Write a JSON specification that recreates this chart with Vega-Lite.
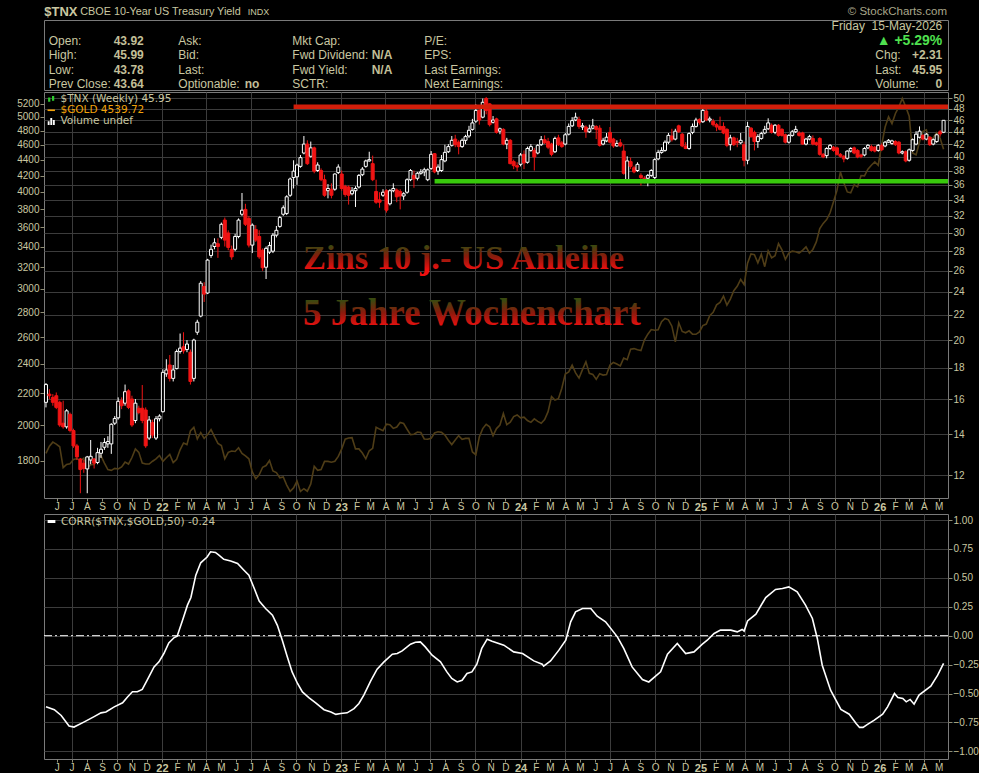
{
  "$schema": "https://vega.github.io/schema/vega-lite/v6.json",
  "background": "#000000",
  "padding": 0,
  "spacing": 0,
  "datasets": {
    "top": [
      {"t": "$TNX", "k": "sym", "c": 1},
      {"t": "CBOE 10-Year US Treasury Yield", "k": "name", "c": 2},
      {"t": "INDX", "k": "ex", "c": 3},
      {"t": "© StockCharts.com", "k": "copy", "c": 4}
    ],
    "head": [
      {"t": "Friday\u00a0\u00a015-May-2026", "k": "date", "c": 9, "r": 1},
      {"t": "▲ +5.29%", "k": "pct", "c": 9, "r": 2},
      {"t": "Open:", "k": "label", "c": 1, "r": 2},
      {"t": "43.92", "k": "value", "c": 2, "r": 2},
      {"t": "Ask:", "k": "label", "c": 3, "r": 2},
      {"t": "Mkt Cap:", "k": "label", "c": 5, "r": 2},
      {"t": "P/E:", "k": "label", "c": 7, "r": 2},
      {"t": "High:", "k": "label", "c": 1, "r": 3},
      {"t": "45.99", "k": "value", "c": 2, "r": 3},
      {"t": "Bid:", "k": "label", "c": 3, "r": 3},
      {"t": "Fwd Dividend:", "k": "label", "c": 5, "r": 3},
      {"t": "N/A", "k": "value", "c": 6, "r": 3},
      {"t": "EPS:", "k": "label", "c": 7, "r": 3},
      {"t": "Chg:", "k": "label", "c": 8, "r": 3},
      {"t": "+2.31", "k": "rvalue", "c": 9, "r": 3},
      {"t": "Low:", "k": "label", "c": 1, "r": 4},
      {"t": "43.78", "k": "value", "c": 2, "r": 4},
      {"t": "Last:", "k": "label", "c": 3, "r": 4},
      {"t": "Fwd Yield:", "k": "label", "c": 5, "r": 4},
      {"t": "N/A", "k": "value", "c": 6, "r": 4},
      {"t": "Last Earnings:", "k": "label", "c": 7, "r": 4},
      {"t": "Last:", "k": "label", "c": 8, "r": 4},
      {"t": "45.95", "k": "rvalue", "c": 9, "r": 4},
      {"t": "Prev Close:", "k": "label", "c": 1, "r": 5},
      {"t": "43.64", "k": "value", "c": 2, "r": 5},
      {"t": "Optionable:", "k": "label", "c": 3, "r": 5},
      {"t": "no", "k": "value", "c": 4, "r": 5},
      {"t": "SCTR:", "k": "label", "c": 5, "r": 5},
      {"t": "Next Earnings:", "k": "label", "c": 7, "r": 5},
      {"t": "Volume:", "k": "label", "c": 8, "r": 5},
      {"t": "0", "k": "rvalue", "c": 9, "r": 5}
    ],
    "legendMain": [
      {"s": "$TNX (Weekly) 45.95"},
      {"s": "$GOLD 4539.72"},
      {"s": "Volume undef"}
    ],
    "levels": [
      {"n": "Widerstand", "v": 48.36, "from": "2022-09-26", "to": "2026-05-20"},
      {"n": "Unterstützung", "v": 36.5, "from": "2023-07-10", "to": "2026-05-20"}
    ],
    "weekly": [
      {"d":"2021-05-10","o":15.8,"h":17.0,"l":15.5,"c":16.9,"g":1840},
      {"d":"2021-05-17","o":16.3,"h":16.6,"l":16.0,"c":16.2,"g":1880},
      {"d":"2021-05-24","o":16.1,"h":16.3,"l":15.6,"c":15.8,"g":1903},
      {"d":"2021-05-31","o":16.2,"h":16.4,"l":15.4,"c":15.5,"g":1892},
      {"d":"2021-06-07","o":15.8,"h":15.9,"l":14.4,"c":14.5,"g":1877},
      {"d":"2021-06-14","o":14.6,"h":15.9,"l":14.3,"c":14.4,"g":1764},
      {"d":"2021-06-21","o":14.4,"h":15.4,"l":14.3,"c":15.3,"g":1781},
      {"d":"2021-06-28","o":15.1,"h":15.2,"l":14.1,"c":14.2,"g":1784},
      {"d":"2021-07-05","o":14.2,"h":14.3,"l":13.3,"c":13.4,"g":1808},
      {"d":"2021-07-12","o":13.4,"h":13.5,"l":12.7,"c":12.85,"g":1812},
      {"d":"2021-07-19","o":12.75,"h":12.8,"l":11.2,"c":12.25,"g":1802},
      {"d":"2021-07-26","o":12.55,"h":12.7,"l":12.1,"c":12.3,"g":1814},
      {"d":"2021-08-02","o":12.28,"h":12.9,"l":11.2,"c":12.85,"g":1763},
      {"d":"2021-08-09","o":12.7,"h":13.7,"l":12.5,"c":12.88,"g":1779},
      {"d":"2021-08-16","o":12.75,"h":12.8,"l":12.3,"c":12.55,"g":1781},
      {"d":"2021-08-23","o":12.58,"h":13.3,"l":12.5,"c":13.06,"g":1817},
      {"d":"2021-08-30","o":13.03,"h":13.6,"l":12.8,"c":13.23,"g":1827},
      {"d":"2021-09-06","o":13.33,"h":13.8,"l":13.2,"c":13.57,"g":1788},
      {"d":"2021-09-13","o":13.5,"h":13.9,"l":13.3,"c":13.62,"g":1754},
      {"d":"2021-09-20","o":13.5,"h":14.6,"l":13.0,"c":14.54,"g":1750},
      {"d":"2021-09-27","o":14.6,"h":15.0,"l":14.5,"c":14.86,"g":1760},
      {"d":"2021-10-04","o":14.9,"h":16.1,"l":14.8,"c":15.86,"g":1757},
      {"d":"2021-10-11","o":15.9,"h":16.1,"l":15.4,"c":15.6,"g":1768},
      {"d":"2021-10-18","o":15.75,"h":16.9,"l":15.6,"c":16.45,"g":1793},
      {"d":"2021-10-25","o":16.5,"h":16.6,"l":15.4,"c":15.5,"g":1783},
      {"d":"2021-11-01","o":16.0,"h":16.2,"l":14.4,"c":14.5,"g":1818},
      {"d":"2021-11-08","o":14.75,"h":16.0,"l":14.6,"c":15.75,"g":1865},
      {"d":"2021-11-15","o":15.45,"h":15.6,"l":15.1,"c":15.2,"g":1846},
      {"d":"2021-11-22","o":15.45,"h":16.87,"l":14.6,"c":14.75,"g":1788},
      {"d":"2021-11-29","o":15.35,"h":15.5,"l":13.3,"c":13.4,"g":1783},
      {"d":"2021-12-06","o":13.8,"h":15.0,"l":13.7,"c":14.78,"g":1783},
      {"d":"2021-12-13","o":14.63,"h":14.8,"l":13.8,"c":13.96,"g":1798},
      {"d":"2021-12-20","o":13.8,"h":15.0,"l":13.7,"c":14.85,"g":1811},
      {"d":"2021-12-27","o":14.85,"h":15.1,"l":14.7,"c":15.0,"g":1829},
      {"d":"2022-01-03","o":15.25,"h":17.9,"l":15.2,"c":17.7,"g":1797},
      {"d":"2022-01-10","o":17.6,"h":18.6,"l":17.4,"c":17.86,"g":1817},
      {"d":"2022-01-17","o":18.2,"h":18.9,"l":17.1,"c":17.3,"g":1835},
      {"d":"2022-01-24","o":17.3,"h":18.2,"l":17.1,"c":17.86,"g":1791},
      {"d":"2022-01-31","o":17.95,"h":19.3,"l":17.9,"c":19.15,"g":1808},
      {"d":"2022-02-07","o":19.15,"h":20.5,"l":19.0,"c":19.4,"g":1860},
      {"d":"2022-02-14","o":19.5,"h":20.6,"l":19.0,"c":19.2,"g":1898},
      {"d":"2022-02-21","o":19.3,"h":20.0,"l":19.1,"c":19.7,"g":1889},
      {"d":"2022-02-28","o":19.1,"h":19.3,"l":16.9,"c":17.1,"g":1967},
      {"d":"2022-03-07","o":17.3,"h":20.1,"l":17.1,"c":20.0,"g":1988},
      {"d":"2022-03-14","o":20.6,"h":21.6,"l":20.4,"c":21.4,"g":1921},
      {"d":"2022-03-21","o":21.9,"h":25.0,"l":21.8,"c":24.8,"g":1958},
      {"d":"2022-03-28","o":24.5,"h":24.9,"l":23.1,"c":23.8,"g":1924},
      {"d":"2022-04-04","o":23.9,"h":27.2,"l":23.8,"c":27.07,"g":1946},
      {"d":"2022-04-11","o":27.55,"h":28.7,"l":27.3,"c":28.2,"g":1975},
      {"d":"2022-04-18","o":28.5,"h":29.4,"l":28.2,"c":28.9,"g":1934},
      {"d":"2022-04-25","o":28.8,"h":29.4,"l":27.3,"c":28.5,"g":1896},
      {"d":"2022-05-02","o":29.5,"h":31.2,"l":29.3,"c":31.0,"g":1884},
      {"d":"2022-05-09","o":31.5,"h":31.8,"l":28.5,"c":29.2,"g":1811},
      {"d":"2022-05-16","o":30.0,"h":30.3,"l":28.1,"c":28.4,"g":1846},
      {"d":"2022-05-23","o":28.2,"h":28.6,"l":27.1,"c":27.4,"g":1853},
      {"d":"2022-05-30","o":28.2,"h":29.9,"l":28.0,"c":29.6,"g":1851},
      {"d":"2022-06-06","o":29.6,"h":31.7,"l":29.4,"c":31.5,"g":1871},
      {"d":"2022-06-13","o":32.2,"h":34.9,"l":32.0,"c":32.7,"g":1840},
      {"d":"2022-06-20","o":32.8,"h":33.5,"l":30.8,"c":31.0,"g":1827},
      {"d":"2022-06-27","o":31.7,"h":32.0,"l":28.4,"c":28.65,"g":1811},
      {"d":"2022-07-04","o":28.65,"h":31.1,"l":27.8,"c":30.9,"g":1742},
      {"d":"2022-07-11","o":30.4,"h":30.9,"l":29.0,"c":29.2,"g":1707},
      {"d":"2022-07-18","o":29.6,"h":30.3,"l":27.2,"c":27.4,"g":1727},
      {"d":"2022-07-25","o":28.1,"h":28.3,"l":26.0,"c":26.3,"g":1766},
      {"d":"2022-08-01","o":26.35,"h":28.5,"l":25.2,"c":28.3,"g":1775},
      {"d":"2022-08-08","o":27.9,"h":29.0,"l":27.7,"c":28.6,"g":1802},
      {"d":"2022-08-15","o":28.0,"h":30.0,"l":27.8,"c":29.75,"g":1747},
      {"d":"2022-08-22","o":29.75,"h":30.8,"l":29.5,"c":30.3,"g":1738},
      {"d":"2022-08-29","o":30.75,"h":32.0,"l":30.6,"c":31.8,"g":1712},
      {"d":"2022-09-05","o":32.2,"h":33.3,"l":32.0,"c":33.0,"g":1716},
      {"d":"2022-09-12","o":32.3,"h":34.6,"l":32.1,"c":34.4,"g":1675},
      {"d":"2022-09-19","o":34.6,"h":37.0,"l":34.4,"c":36.8,"g":1644},
      {"d":"2022-09-26","o":37.0,"h":39.5,"l":35.5,"c":37.9,"g":1661},
      {"d":"2022-10-03","o":37.1,"h":39.0,"l":36.0,"c":38.8,"g":1695},
      {"d":"2022-10-10","o":38.6,"h":40.3,"l":38.4,"c":39.9,"g":1644},
      {"d":"2022-10-17","o":40.6,"h":43.3,"l":40.4,"c":42.0,"g":1657},
      {"d":"2022-10-24","o":42.0,"h":42.6,"l":38.8,"c":39.0,"g":1645},
      {"d":"2022-10-31","o":40.1,"h":42.4,"l":39.9,"c":41.4,"g":1681},
      {"d":"2022-11-07","o":41.4,"h":41.6,"l":37.6,"c":37.9,"g":1771},
      {"d":"2022-11-14","o":38.0,"h":39.2,"l":37.8,"c":38.8,"g":1750},
      {"d":"2022-11-21","o":38.0,"h":38.3,"l":36.5,"c":36.7,"g":1754},
      {"d":"2022-11-28","o":36.7,"h":37.4,"l":34.4,"c":34.6,"g":1797},
      {"d":"2022-12-05","o":35.2,"h":36.1,"l":34.2,"c":35.5,"g":1797},
      {"d":"2022-12-12","o":35.4,"h":36.2,"l":34.2,"c":34.6,"g":1793},
      {"d":"2022-12-19","o":35.4,"h":37.6,"l":35.2,"c":37.5,"g":1798},
      {"d":"2022-12-26","o":37.7,"h":38.9,"l":37.5,"c":38.5,"g":1824},
      {"d":"2023-01-02","o":37.5,"h":38.0,"l":35.2,"c":35.5,"g":1865},
      {"d":"2023-01-09","o":35.8,"h":36.0,"l":34.4,"c":34.7,"g":1920},
      {"d":"2023-01-16","o":35.7,"h":35.9,"l":33.4,"c":34.6,"g":1926},
      {"d":"2023-01-23","o":34.8,"h":35.7,"l":34.6,"c":35.2,"g":1928},
      {"d":"2023-01-30","o":35.2,"h":35.8,"l":33.1,"c":35.5,"g":1865},
      {"d":"2023-02-06","o":35.7,"h":37.5,"l":35.5,"c":37.3,"g":1865},
      {"d":"2023-02-13","o":37.4,"h":38.5,"l":37.2,"c":38.2,"g":1842},
      {"d":"2023-02-20","o":38.6,"h":39.6,"l":38.4,"c":39.4,"g":1811},
      {"d":"2023-02-27","o":39.4,"h":40.8,"l":39.3,"c":39.6,"g":1855},
      {"d":"2023-03-06","o":39.0,"h":40.2,"l":36.5,"c":36.7,"g":1868},
      {"d":"2023-03-13","o":35.1,"h":36.7,"l":33.5,"c":33.7,"g":1989},
      {"d":"2023-03-20","o":34.0,"h":35.0,"l":33.0,"c":33.7,"g":1978},
      {"d":"2023-03-27","o":34.6,"h":35.4,"l":34.4,"c":35.0,"g":1969},
      {"d":"2023-04-03","o":35.2,"h":35.4,"l":32.4,"c":32.7,"g":2007},
      {"d":"2023-04-10","o":33.5,"h":35.4,"l":33.3,"c":35.2,"g":2004},
      {"d":"2023-04-17","o":35.2,"h":36.2,"l":35.0,"c":35.5,"g":1982},
      {"d":"2023-04-24","o":35.3,"h":35.5,"l":33.7,"c":34.4,"g":1990},
      {"d":"2023-05-01","o":35.1,"h":35.4,"l":32.8,"c":34.5,"g":2017},
      {"d":"2023-05-08","o":34.5,"h":35.0,"l":34.0,"c":34.8,"g":2011},
      {"d":"2023-05-15","o":35.0,"h":36.9,"l":34.8,"c":36.7,"g":1977},
      {"d":"2023-05-22","o":36.7,"h":38.2,"l":36.5,"c":38.0,"g":1946},
      {"d":"2023-05-29","o":37.3,"h":38.0,"l":35.6,"c":36.8,"g":1948},
      {"d":"2023-06-05","o":36.9,"h":37.8,"l":36.6,"c":37.6,"g":1961},
      {"d":"2023-06-12","o":37.6,"h":38.2,"l":37.4,"c":37.8,"g":1958},
      {"d":"2023-06-19","o":37.8,"h":38.4,"l":37.2,"c":38.1,"g":1921},
      {"d":"2023-06-26","o":36.7,"h":38.3,"l":36.5,"c":38.1,"g":1919},
      {"d":"2023-07-03","o":38.3,"h":40.9,"l":38.1,"c":40.4,"g":1925},
      {"d":"2023-07-10","o":40.5,"h":40.6,"l":37.6,"c":37.8,"g":1955},
      {"d":"2023-07-17","o":37.9,"h":38.9,"l":37.4,"c":38.5,"g":1962},
      {"d":"2023-07-24","o":38.0,"h":40.3,"l":37.8,"c":39.6,"g":1959},
      {"d":"2023-07-31","o":39.4,"h":41.9,"l":39.2,"c":40.7,"g":1943},
      {"d":"2023-08-07","o":40.8,"h":42.0,"l":40.6,"c":41.6,"g":1914},
      {"d":"2023-08-14","o":41.8,"h":43.3,"l":41.6,"c":42.6,"g":1889},
      {"d":"2023-08-21","o":42.8,"h":43.5,"l":41.5,"c":41.9,"g":1915},
      {"d":"2023-08-28","o":42.3,"h":42.6,"l":40.4,"c":41.6,"g":1940},
      {"d":"2023-09-04","o":41.6,"h":42.9,"l":41.4,"c":42.6,"g":1919},
      {"d":"2023-09-11","o":42.6,"h":43.5,"l":42.0,"c":43.2,"g":1924},
      {"d":"2023-09-18","o":43.3,"h":45.0,"l":43.0,"c":44.25,"g":1925},
      {"d":"2023-09-25","o":44.4,"h":46.2,"l":44.2,"c":45.5,"g":1848},
      {"d":"2023-10-02","o":45.8,"h":48.8,"l":45.5,"c":47.7,"g":1833},
      {"d":"2023-10-09","o":47.7,"h":47.9,"l":45.2,"c":46.0,"g":1932},
      {"d":"2023-10-16","o":46.5,"h":49.9,"l":46.3,"c":49.2,"g":1981},
      {"d":"2023-10-23","o":49.9,"h":50.2,"l":47.0,"c":47.7,"g":2006},
      {"d":"2023-10-30","o":48.9,"h":49.0,"l":44.9,"c":45.2,"g":1992},
      {"d":"2023-11-06","o":45.6,"h":46.7,"l":45.4,"c":46.0,"g":1940},
      {"d":"2023-11-13","o":46.2,"h":46.4,"l":43.7,"c":43.9,"g":1981},
      {"d":"2023-11-20","o":44.1,"h":44.7,"l":43.6,"c":44.5,"g":2002},
      {"d":"2023-11-27","o":44.4,"h":44.6,"l":41.8,"c":42.0,"g":2072},
      {"d":"2023-12-04","o":42.0,"h":43.0,"l":41.2,"c":42.6,"g":2004},
      {"d":"2023-12-11","o":42.6,"h":42.8,"l":38.9,"c":39.0,"g":2019},
      {"d":"2023-12-18","o":39.3,"h":39.6,"l":38.2,"c":38.7,"g":2053},
      {"d":"2023-12-25","o":38.7,"h":39.2,"l":37.9,"c":38.5,"g":2063},
      {"d":"2024-01-01","o":38.9,"h":40.6,"l":38.6,"c":40.3,"g":2045},
      {"d":"2024-01-08","o":40.4,"h":41.0,"l":38.2,"c":39.1,"g":2049},
      {"d":"2024-01-15","o":39.2,"h":41.6,"l":39.0,"c":41.3,"g":2029},
      {"d":"2024-01-22","o":41.0,"h":42.0,"l":40.8,"c":41.6,"g":2018},
      {"d":"2024-01-29","o":41.0,"h":41.4,"l":38.0,"c":40.0,"g":2039},
      {"d":"2024-02-05","o":40.6,"h":42.0,"l":40.4,"c":41.8,"g":2024},
      {"d":"2024-02-12","o":41.9,"h":43.3,"l":41.7,"c":42.7,"g":2013},
      {"d":"2024-02-19","o":42.7,"h":43.4,"l":42.0,"c":42.2,"g":2035},
      {"d":"2024-02-26","o":42.4,"h":43.0,"l":41.2,"c":41.5,"g":2083},
      {"d":"2024-03-04","o":42.0,"h":42.2,"l":40.1,"c":40.4,"g":2179},
      {"d":"2024-03-11","o":40.8,"h":43.2,"l":40.6,"c":42.9,"g":2156},
      {"d":"2024-03-18","o":43.0,"h":43.5,"l":41.7,"c":41.9,"g":2165},
      {"d":"2024-03-25","o":42.2,"h":42.5,"l":41.4,"c":41.6,"g":2233},
      {"d":"2024-04-01","o":42.0,"h":43.8,"l":41.8,"c":43.5,"g":2330},
      {"d":"2024-04-08","o":43.6,"h":45.4,"l":43.4,"c":44.9,"g":2344},
      {"d":"2024-04-15","o":45.0,"h":46.5,"l":44.8,"c":45.9,"g":2392},
      {"d":"2024-04-22","o":46.0,"h":47.3,"l":45.8,"c":46.5,"g":2337},
      {"d":"2024-04-29","o":46.1,"h":46.6,"l":44.5,"c":44.9,"g":2301},
      {"d":"2024-05-06","o":44.8,"h":45.5,"l":44.3,"c":45.0,"g":2360},
      {"d":"2024-05-13","o":44.8,"h":45.1,"l":43.0,"c":44.0,"g":2415},
      {"d":"2024-05-20","o":44.0,"h":45.2,"l":43.8,"c":44.5,"g":2334},
      {"d":"2024-05-27","o":44.6,"h":46.2,"l":44.4,"c":45.0,"g":2327},
      {"d":"2024-06-03","o":44.9,"h":45.1,"l":42.8,"c":44.4,"g":2293},
      {"d":"2024-06-10","o":44.6,"h":45.1,"l":41.6,"c":41.8,"g":2332},
      {"d":"2024-06-17","o":42.0,"h":43.0,"l":41.8,"c":42.6,"g":2322},
      {"d":"2024-06-24","o":42.5,"h":43.8,"l":42.3,"c":43.1,"g":2326},
      {"d":"2024-07-01","o":43.9,"h":44.8,"l":42.1,"c":42.3,"g":2392},
      {"d":"2024-07-08","o":42.8,"h":43.0,"l":41.4,"c":41.7,"g":2411},
      {"d":"2024-07-15","o":41.7,"h":42.6,"l":41.6,"c":42.1,"g":2400},
      {"d":"2024-07-22","o":42.2,"h":42.8,"l":41.5,"c":41.7,"g":2386},
      {"d":"2024-07-29","o":40.9,"h":41.9,"l":37.4,"c":37.6,"g":2443},
      {"d":"2024-08-05","o":36.7,"h":40.1,"l":36.5,"c":39.4,"g":2431},
      {"d":"2024-08-12","o":39.3,"h":39.9,"l":38.2,"c":38.6,"g":2507},
      {"d":"2024-08-19","o":38.4,"h":38.7,"l":37.6,"c":37.8,"g":2512},
      {"d":"2024-08-26","o":38.0,"h":39.2,"l":37.8,"c":38.9,"g":2503},
      {"d":"2024-09-02","o":37.3,"h":37.6,"l":35.9,"c":37.0,"g":2497},
      {"d":"2024-09-09","o":36.9,"h":37.2,"l":36.2,"c":36.7,"g":2577},
      {"d":"2024-09-16","o":36.9,"h":37.5,"l":35.8,"c":37.3,"g":2622},
      {"d":"2024-09-23","o":37.3,"h":38.2,"l":37.1,"c":38.0,"g":2658},
      {"d":"2024-09-30","o":37.0,"h":39.8,"l":36.8,"c":39.6,"g":2653},
      {"d":"2024-10-07","o":39.7,"h":41.1,"l":39.5,"c":40.7,"g":2656},
      {"d":"2024-10-14","o":40.7,"h":41.5,"l":40.5,"c":41.0,"g":2721},
      {"d":"2024-10-21","o":41.0,"h":42.6,"l":40.8,"c":42.3,"g":2747},
      {"d":"2024-10-28","o":42.3,"h":43.8,"l":42.0,"c":43.4,"g":2736},
      {"d":"2024-11-04","o":43.3,"h":44.5,"l":42.4,"c":42.7,"g":2685},
      {"d":"2024-11-11","o":42.8,"h":44.5,"l":42.6,"c":44.1,"g":2563},
      {"d":"2024-11-18","o":45.0,"h":45.2,"l":43.8,"c":44.0,"g":2712},
      {"d":"2024-11-25","o":43.6,"h":43.8,"l":41.5,"c":41.7,"g":2643},
      {"d":"2024-12-02","o":41.7,"h":42.3,"l":41.2,"c":41.3,"g":2633},
      {"d":"2024-12-09","o":41.3,"h":43.9,"l":41.1,"c":43.7,"g":2648},
      {"d":"2024-12-16","o":43.9,"h":45.4,"l":43.6,"c":44.9,"g":2622},
      {"d":"2024-12-23","o":44.9,"h":46.4,"l":44.7,"c":46.0,"g":2621},
      {"d":"2024-12-30","o":46.1,"h":46.3,"l":45.2,"c":45.6,"g":2640},
      {"d":"2025-01-06","o":45.7,"h":48.0,"l":45.5,"c":47.7,"g":2690},
      {"d":"2025-01-13","o":47.6,"h":48.0,"l":45.8,"c":46.0,"g":2702},
      {"d":"2025-01-20","o":46.0,"h":46.6,"l":45.6,"c":46.2,"g":2770},
      {"d":"2025-01-27","o":45.8,"h":46.2,"l":44.9,"c":45.2,"g":2798},
      {"d":"2025-02-03","o":45.2,"h":45.5,"l":44.1,"c":44.8,"g":2861},
      {"d":"2025-02-10","o":44.9,"h":46.6,"l":44.2,"c":44.4,"g":2882},
      {"d":"2025-02-17","o":44.9,"h":45.6,"l":43.6,"c":43.8,"g":2936},
      {"d":"2025-02-24","o":44.4,"h":44.6,"l":41.5,"c":41.8,"g":2858},
      {"d":"2025-03-03","o":41.9,"h":43.5,"l":41.0,"c":43.0,"g":2910},
      {"d":"2025-03-10","o":43.0,"h":43.2,"l":41.7,"c":41.9,"g":2984},
      {"d":"2025-03-17","o":42.4,"h":43.0,"l":41.5,"c":42.2,"g":3022},
      {"d":"2025-03-24","o":42.2,"h":43.8,"l":42.0,"c":42.6,"g":3085},
      {"d":"2025-03-31","o":41.9,"h":42.4,"l":38.6,"c":39.5,"g":3037},
      {"d":"2025-04-07","o":39.5,"h":45.7,"l":38.9,"c":44.9,"g":3237},
      {"d":"2025-04-14","o":44.6,"h":44.8,"l":43.0,"c":43.2,"g":3327},
      {"d":"2025-04-21","o":43.9,"h":44.2,"l":41.0,"c":42.4,"g":3319},
      {"d":"2025-04-28","o":42.4,"h":43.6,"l":41.4,"c":43.2,"g":3240},
      {"d":"2025-05-05","o":42.9,"h":44.0,"l":42.7,"c":43.7,"g":3325},
      {"d":"2025-05-12","o":43.8,"h":45.0,"l":43.6,"c":44.4,"g":3204},
      {"d":"2025-05-19","o":44.5,"h":46.3,"l":44.3,"c":45.5,"g":3358},
      {"d":"2025-05-26","o":45.1,"h":45.4,"l":43.7,"c":43.9,"g":3289},
      {"d":"2025-06-02","o":43.9,"h":45.3,"l":43.6,"c":45.1,"g":3310},
      {"d":"2025-06-09","o":45.1,"h":45.3,"l":43.2,"c":43.4,"g":3432},
      {"d":"2025-06-16","o":44.4,"h":44.6,"l":43.2,"c":43.4,"g":3368},
      {"d":"2025-06-23","o":43.5,"h":43.7,"l":42.1,"c":42.3,"g":3274},
      {"d":"2025-06-30","o":42.3,"h":43.6,"l":42.1,"c":43.4,"g":3337},
      {"d":"2025-07-07","o":43.4,"h":44.3,"l":43.2,"c":44.0,"g":3355},
      {"d":"2025-07-14","o":44.0,"h":45.0,"l":43.8,"c":44.4,"g":3350},
      {"d":"2025-07-21","o":43.8,"h":44.1,"l":43.2,"c":43.4,"g":3337},
      {"d":"2025-07-28","o":43.8,"h":44.0,"l":41.9,"c":42.0,"g":3363},
      {"d":"2025-08-04","o":42.0,"h":43.0,"l":41.8,"c":42.8,"g":3398},
      {"d":"2025-08-11","o":42.8,"h":43.5,"l":42.6,"c":43.2,"g":3336},
      {"d":"2025-08-18","o":42.9,"h":43.4,"l":41.8,"c":42.0,"g":3372},
      {"d":"2025-08-25","o":42.2,"h":42.4,"l":41.7,"c":41.9,"g":3448},
      {"d":"2025-09-01","o":42.9,"h":43.1,"l":40.2,"c":40.4,"g":3587},
      {"d":"2025-09-08","o":40.4,"h":40.6,"l":39.8,"c":40.0,"g":3643},
      {"d":"2025-09-15","o":40.2,"h":41.5,"l":39.8,"c":41.3,"g":3685},
      {"d":"2025-09-22","o":41.3,"h":42.0,"l":41.1,"c":41.8,"g":3760},
      {"d":"2025-09-29","o":41.5,"h":41.7,"l":40.8,"c":41.0,"g":3886},
      {"d":"2025-10-06","o":41.4,"h":41.6,"l":40.2,"c":40.4,"g":4018},
      {"d":"2025-10-13","o":40.4,"h":40.6,"l":39.9,"c":40.1,"g":4245},
      {"d":"2025-10-20","o":40.1,"h":40.3,"l":39.2,"c":39.7,"g":4110},
      {"d":"2025-10-27","o":39.8,"h":41.0,"l":39.6,"c":40.9,"g":4000},
      {"d":"2025-11-03","o":40.9,"h":41.5,"l":40.7,"c":41.3,"g":3990},
      {"d":"2025-11-10","o":41.4,"h":41.6,"l":40.4,"c":40.6,"g":4085},
      {"d":"2025-11-17","o":41.0,"h":41.2,"l":39.8,"c":40.0,"g":4062},
      {"d":"2025-11-24","o":40.3,"h":40.5,"l":39.8,"c":40.1,"g":4200},
      {"d":"2025-12-01","o":40.3,"h":41.5,"l":40.1,"c":41.3,"g":4195},
      {"d":"2025-12-08","o":41.4,"h":42.0,"l":41.2,"c":41.8,"g":4280},
      {"d":"2025-12-15","o":41.6,"h":41.9,"l":40.8,"c":41.0,"g":4330},
      {"d":"2025-12-22","o":41.5,"h":41.7,"l":40.7,"c":40.9,"g":4373},
      {"d":"2025-12-29","o":41.0,"h":42.0,"l":40.8,"c":41.8,"g":4330},
      {"d":"2026-01-05","o":41.8,"h":42.1,"l":40.9,"c":41.1,"g":4600},
      {"d":"2026-01-12","o":41.7,"h":42.5,"l":41.5,"c":42.3,"g":4850},
      {"d":"2026-01-19","o":42.3,"h":42.8,"l":42.2,"c":42.6,"g":5000},
      {"d":"2026-01-26","o":42.1,"h":42.7,"l":41.9,"c":42.5,"g":4900},
      {"d":"2026-02-02","o":42.4,"h":42.6,"l":41.7,"c":41.9,"g":5050},
      {"d":"2026-02-09","o":42.3,"h":42.5,"l":40.4,"c":40.6,"g":5150},
      {"d":"2026-02-16","o":40.6,"h":41.0,"l":40.4,"c":40.8,"g":5280},
      {"d":"2026-02-23","o":40.8,"h":41.0,"l":39.2,"c":39.4,"g":5150},
      {"d":"2026-03-02","o":39.5,"h":41.3,"l":39.3,"c":41.1,"g":5010},
      {"d":"2026-03-09","o":41.0,"h":42.9,"l":40.8,"c":42.7,"g":4490},
      {"d":"2026-03-16","o":42.0,"h":44.1,"l":41.8,"c":43.6,"g":4465},
      {"d":"2026-03-23","o":43.1,"h":44.9,"l":42.9,"c":44.1,"g":4640},
      {"d":"2026-03-30","o":43.4,"h":43.6,"l":42.6,"c":42.8,"g":4790},
      {"d":"2026-04-06","o":42.8,"h":43.8,"l":42.6,"c":43.6,"g":4810},
      {"d":"2026-04-13","o":43.1,"h":43.3,"l":41.7,"c":41.9,"g":4620},
      {"d":"2026-04-20","o":42.0,"h":42.9,"l":41.8,"c":42.7,"g":4700},
      {"d":"2026-04-27","o":42.4,"h":43.7,"l":42.2,"c":43.5,"g":4770},
      {"d":"2026-05-04","o":44.0,"h":44.3,"l":43.2,"c":43.64,"g":4690},
      {"d":"2026-05-11","o":43.92,"h":45.99,"l":43.78,"c":45.95,"g":4540}
    ],
    "corr": [
      {"d":"2021-05-10","v":-0.615},{"d":"2021-05-27","v":-0.64},{"d":"2021-06-10","v":-0.69},
      {"d":"2021-06-26","v":-0.78},{"d":"2021-07-06","v":-0.79},{"d":"2021-07-27","v":-0.745},
      {"d":"2021-08-16","v":-0.70},{"d":"2021-08-30","v":-0.667},{"d":"2021-09-09","v":-0.66},
      {"d":"2021-09-26","v":-0.615},{"d":"2021-10-13","v":-0.58},{"d":"2021-10-23","v":-0.53},
      {"d":"2021-11-02","v":-0.485},{"d":"2021-11-12","v":-0.485},{"d":"2021-11-22","v":-0.465},
      {"d":"2021-12-02","v":-0.385},{"d":"2021-12-16","v":-0.27},{"d":"2021-12-26","v":-0.226},
      {"d":"2022-01-05","v":-0.154},{"d":"2022-01-15","v":-0.062},{"d":"2022-01-26","v":-0.016},
      {"d":"2022-02-01","v":-0.004},{"d":"2022-02-12","v":0.134},{"d":"2022-02-22","v":0.264},
      {"d":"2022-03-01","v":0.33},{"d":"2022-03-11","v":0.523},{"d":"2022-03-21","v":0.63},
      {"d":"2022-04-03","v":0.68},{"d":"2022-04-10","v":0.725},{"d":"2022-04-20","v":0.72},
      {"d":"2022-04-27","v":0.696},{"d":"2022-05-07","v":0.66},{"d":"2022-05-21","v":0.646},
      {"d":"2022-06-04","v":0.624},{"d":"2022-06-17","v":0.566},{"d":"2022-06-27","v":0.523},
      {"d":"2022-07-08","v":0.408},{"d":"2022-07-18","v":0.30},{"d":"2022-07-31","v":0.235},
      {"d":"2022-08-14","v":0.177},{"d":"2022-08-24","v":0.09},{"d":"2022-09-03","v":-0.04},
      {"d":"2022-09-13","v":-0.18},{"d":"2022-09-23","v":-0.313},{"d":"2022-10-04","v":-0.413},
      {"d":"2022-10-14","v":-0.486},{"d":"2022-10-27","v":-0.535},{"d":"2022-11-10","v":-0.58},
      {"d":"2022-11-27","v":-0.64},{"d":"2022-12-11","v":-0.66},{"d":"2022-12-21","v":-0.68},
      {"d":"2022-12-31","v":-0.673},{"d":"2023-01-13","v":-0.667},{"d":"2023-01-27","v":-0.63},
      {"d":"2023-02-06","v":-0.586},{"d":"2023-02-16","v":-0.514},{"d":"2023-03-02","v":-0.39},
      {"d":"2023-03-15","v":-0.29},{"d":"2023-03-29","v":-0.226},{"d":"2023-04-15","v":-0.16},
      {"d":"2023-04-25","v":-0.154},{"d":"2023-05-05","v":-0.131},{"d":"2023-05-22","v":-0.073},
      {"d":"2023-06-01","v":-0.056},{"d":"2023-06-11","v":-0.054},{"d":"2023-06-21","v":-0.097},
      {"d":"2023-07-05","v":-0.169},{"d":"2023-07-22","v":-0.226},{"d":"2023-08-04","v":-0.313},
      {"d":"2023-08-14","v":-0.37},{"d":"2023-08-25","v":-0.40},{"d":"2023-09-04","v":-0.385},
      {"d":"2023-09-14","v":-0.327},{"d":"2023-09-24","v":-0.313},{"d":"2023-10-04","v":-0.246},
      {"d":"2023-10-14","v":-0.11},{"d":"2023-10-25","v":-0.03},{"d":"2023-11-04","v":-0.048},
      {"d":"2023-11-28","v":-0.082},{"d":"2023-12-18","v":-0.14},{"d":"2024-01-05","v":-0.154},
      {"d":"2024-01-28","v":-0.218},{"d":"2024-02-14","v":-0.246},{"d":"2024-02-17","v":-0.264},
      {"d":"2024-03-02","v":-0.218},{"d":"2024-03-19","v":-0.125},{"d":"2024-04-02","v":-0.039},
      {"d":"2024-04-12","v":0.12},{"d":"2024-04-22","v":0.206},{"d":"2024-05-06","v":0.235},
      {"d":"2024-05-23","v":0.235},{"d":"2024-06-05","v":0.168},{"d":"2024-06-22","v":0.12},
      {"d":"2024-07-16","v":-0.01},{"d":"2024-07-29","v":-0.11},{"d":"2024-08-15","v":-0.27},
      {"d":"2024-09-05","v":-0.379},{"d":"2024-09-18","v":-0.40},{"d":"2024-10-12","v":-0.313},
      {"d":"2024-10-26","v":-0.16},{"d":"2024-11-15","v":-0.068},{"d":"2024-12-02","v":-0.154},
      {"d":"2024-12-19","v":-0.14},{"d":"2025-01-05","v":-0.073},{"d":"2025-01-15","v":-0.039},
      {"d":"2025-01-29","v":0.019},{"d":"2025-02-11","v":0.048},{"d":"2025-03-04","v":0.048},
      {"d":"2025-03-17","v":0.033},{"d":"2025-03-27","v":0.054},{"d":"2025-03-31","v":0.04},
      {"d":"2025-04-07","v":0.128},{"d":"2025-04-24","v":0.186},{"d":"2025-05-14","v":0.33},
      {"d":"2025-06-03","v":0.40},{"d":"2025-06-17","v":0.408},{"d":"2025-06-30","v":0.422},
      {"d":"2025-07-17","v":0.379},{"d":"2025-08-03","v":0.264},{"d":"2025-08-17","v":0.149},
      {"d":"2025-08-27","v":-0.024},{"d":"2025-09-06","v":-0.255},{"d":"2025-09-23","v":-0.471},
      {"d":"2025-10-14","v":-0.638},{"d":"2025-10-31","v":-0.679},{"d":"2025-11-14","v":-0.759},
      {"d":"2025-11-21","v":-0.793},{"d":"2025-11-28","v":-0.793},{"d":"2025-12-08","v":-0.765},
      {"d":"2025-12-21","v":-0.73},{"d":"2026-01-07","v":-0.679},{"d":"2026-01-17","v":-0.615},
      {"d":"2026-01-31","v":-0.50},{"d":"2026-02-07","v":-0.534},{"d":"2026-02-17","v":-0.543},
      {"d":"2026-02-24","v":-0.572},{"d":"2026-03-04","v":-0.551},{"d":"2026-03-12","v":-0.592},
      {"d":"2026-03-22","v":-0.514},{"d":"2026-04-15","v":-0.436},{"d":"2026-04-29","v":-0.341},
      {"d":"2026-05-11","v":-0.24}
    ]
  },
  "vconcat": [
    {
      "width": 904,
      "height": 19,
      "view": {"stroke": null},
      "data": {"name": "top"},
      "encoding": {
        "x": {"field": "c", "type": "quantitative", "scale": {"domain": [1, 2, 3, 4], "range": [0.3, 36.3, 203.7, 903], "zero": false, "nice": false}, "axis": null},
        "text": {"field": "t"}
      },
      "layer": [
        {
          "transform": [{"filter": "datum.k === 'sym'"}],
          "mark": {"type": "text", "align": "left", "baseline": "middle", "dy": 2, "font": "Liberation Sans", "fontSize": 13, "fontWeight": "bold", "fill": "#c9c7a1"}
        },
        {
          "transform": [{"filter": "datum.k === 'name'"}],
          "mark": {"type": "text", "align": "left", "baseline": "middle", "dy": 2, "font": "Liberation Sans", "fontSize": 10.8, "fill": "#c9c7a1"}
        },
        {
          "transform": [{"filter": "datum.k === 'ex'"}],
          "mark": {"type": "text", "align": "left", "baseline": "middle", "dy": 2.5, "font": "Liberation Sans", "fontSize": 9, "fill": "#c9c7a1"}
        },
        {
          "transform": [{"filter": "datum.k === 'copy'"}],
          "mark": {"type": "text", "align": "right", "baseline": "middle", "dy": 2, "font": "Liberation Sans", "fontSize": 11.5, "fill": "#a9a68a"}
        }
      ]
    },
    {
      "width": 904,
      "height": 70,
      "data": {"name": "head"},
      "encoding": {
        "x": {"field": "c", "type": "quantitative", "scale": {"domain": [1, 2, 3, 4, 5, 6, 7, 8, 9], "range": [4.7, 69.7, 134.3, 200.7, 248.3, 327.7, 380.3, 831.3, 898.3], "zero": false, "nice": false}, "axis": null},
        "y": {"field": "r", "type": "ordinal", "scale": {"type": "point", "domain": [1, 2, 3, 4, 5], "range": [6, 64.4], "padding": 0}, "axis": null},
        "text": {"field": "t"}
      },
      "layer": [
        {
          "transform": [{"filter": "datum.k === 'label'"}],
          "mark": {"type": "text", "align": "left", "baseline": "middle", "font": "Liberation Sans", "fontSize": 12, "fill": "#c9c7a1"}
        },
        {
          "transform": [{"filter": "datum.k === 'value'"}],
          "mark": {"type": "text", "align": "left", "baseline": "middle", "font": "Liberation Sans", "fontSize": 12, "fontWeight": "bold", "fill": "#c2bf98"}
        },
        {
          "transform": [{"filter": "datum.k === 'rvalue'"}],
          "mark": {"type": "text", "align": "right", "baseline": "middle", "font": "Liberation Sans", "fontSize": 12, "fontWeight": "bold", "fill": "#c2bf98"}
        },
        {
          "transform": [{"filter": "datum.k === 'date'"}],
          "mark": {"type": "text", "align": "right", "baseline": "middle", "font": "Liberation Sans", "fontSize": 12, "fill": "#c9c7a1"}
        },
        {
          "transform": [{"filter": "datum.k === 'pct'"}],
          "mark": {"type": "text", "align": "right", "baseline": "middle", "font": "Liberation Sans", "fontSize": 14, "fontWeight": "bold", "fill": "#4fe04f"}
        }
      ]
    },
    {
      "width": 904,
      "height": 406,
      "layer": [
        {
          "data": {"name": "weekly"},
          "mark": {"type": "line", "color": "#4f3d17", "strokeWidth": 1.6},
          "encoding": {
            "x": {
              "field": "d", "type": "temporal", "title": null,
              "scale": {"type": "utc", "nice": false, "padding": 0, "domain": [{"year": 2021, "month": 5, "date": 6, "utc": true}, {"year": 2026, "month": 5, "date": 20, "utc": true}]},
              "axis": {
                "tickCount": {"interval": "month", "step": 1},
                "labelExpr": "utcmonth(datum.value) === 0 ? utcFormat(datum.value, '%y') : slice(utcFormat(datum.value, '%b'), 0, 1)",
                "labelFontWeight": {"condition": {"test": "utcmonth(datum.value) === 0", "value": "bold"}, "value": "normal"},
                "labelFontSize": {"condition": {"test": "utcmonth(datum.value) === 0", "value": 11}, "value": 10},
                "grid": true,
                "gridOpacity": {"condition": {"test": "utcmonth(datum.value) % 3 === 0", "value": 1}, "value": 0},
                "tickSize": 3, "labelPadding": 0, "labelOverlap": false, "labelFlush": false, "labelBound": false,
                "domain": false
              }
            },
            "y": {
              "field": "g", "type": "quantitative", "title": null,
              "scale": {"type": "log", "domain": [1612, 5382], "nice": false, "zero": false},
              "axis": {"orient": "left", "values": [1800, 2000, 2200, 2400, 2600, 2800, 3000, 3200, 3400, 3600, 3800, 4000, 4200, 4400, 4600, 4800, 5000, 5200], "format": "d", "grid": false, "tickSize": 4, "labelPadding": 1, "labelOverlap": false, "minExtent": 43, "maxExtent": 43, "domain": false}
            }
          }
        },
        {
          "layer": [
            {
              "data": {"name": "weekly"},
              "mark": {"type": "rule", "strokeWidth": 1},
              "encoding": {
                "x": {"field": "d", "type": "temporal", "title": null, "scale": {"type": "utc", "nice": false, "padding": 0, "domain": [{"year": 2021, "month": 5, "date": 6, "utc": true}, {"year": 2026, "month": 5, "date": 20, "utc": true}]}},
                "y": {
                  "field": "l", "type": "quantitative", "title": null,
                  "scale": {"type": "log", "domain": [11.0, 51.15], "nice": false, "zero": false},
                  "axis": {"orient": "right", "values": [12, 14, 16, 18, 20, 22, 24, 26, 28, 30, 32, 34, 36, 38, 40, 42, 44, 46, 48, 50], "format": "d", "grid": true, "tickSize": 4, "labelPadding": 1, "labelOverlap": false, "domain": false}
                },
                "y2": {"field": "h"},
                "stroke": {"condition": {"test": "datum.c >= datum.o", "value": "#ffffff"}, "value": "#f01414"}
              }
            },
            {
              "data": {"name": "weekly"},
              "mark": {"type": "bar", "width": 3, "strokeWidth": 1},
              "encoding": {
                "x": {"field": "d", "type": "temporal", "title": null, "scale": {"type": "utc", "nice": false, "padding": 0, "domain": [{"year": 2021, "month": 5, "date": 6, "utc": true}, {"year": 2026, "month": 5, "date": 20, "utc": true}]}},
                "y": {"field": "o", "type": "quantitative", "title": null, "scale": {"type": "log", "domain": [11.0, 51.15], "nice": false, "zero": false}},
                "y2": {"field": "c"},
                "fill": {"condition": {"test": "datum.c >= datum.o", "value": "#000000"}, "value": "#f01414"},
                "stroke": {"condition": {"test": "datum.c >= datum.o", "value": "#ffffff"}, "value": "#f01414"}
              }
            },
            {
              "data": {"name": "levels"},
              "mark": {"type": "rule", "strokeWidth": 4.5},
              "encoding": {
                "x": {"field": "from", "type": "temporal", "title": null, "scale": {"type": "utc", "nice": false, "padding": 0, "domain": [{"year": 2021, "month": 5, "date": 6, "utc": true}, {"year": 2026, "month": 5, "date": 20, "utc": true}]}},
                "x2": {"field": "to"},
                "y": {"field": "v", "type": "quantitative", "title": null, "scale": {"type": "log", "domain": [11.0, 51.15], "nice": false, "zero": false}},
                "stroke": {"field": "n", "type": "nominal", "scale": {"domain": ["Widerstand", "Unterstützung"], "range": ["#d21e0a", "#38c80c"]}, "legend": null}
              }
            },
            {
              "data": {"values": [{"note": "Zins 10 j.- US Anleihe"}]},
              "mark": {"type": "text", "align": "left", "baseline": "alphabetic", "font": "Liberation Serif", "fontSize": 34.5, "fontWeight": "bold",
                "fill": {"gradient": "linear", "x1": 0, "y1": 0, "x2": 0, "y2": 1, "stops": [{"offset": 0.2, "color": "#3a4a10"}, {"offset": 0.5, "color": "#8a1a0c"}, {"offset": 0.85, "color": "#f01010"}]}},
              "encoding": {
                "x": {"datum": {"year": 2022, "month": 10, "date": 15, "utc": true}, "type": "temporal", "title": null, "scale": {"type": "utc", "nice": false, "padding": 0, "domain": [{"year": 2021, "month": 5, "date": 6, "utc": true}, {"year": 2026, "month": 5, "date": 20, "utc": true}]}},
                "y": {"datum": 26.2, "type": "quantitative", "title": null, "scale": {"type": "log", "domain": [11.0, 51.15], "nice": false, "zero": false}},
                "text": {"field": "note"}
              }
            },
            {
              "data": {"values": [{"note": "5 Jahre Wochenchart"}]},
              "mark": {"type": "text", "align": "left", "baseline": "alphabetic", "font": "Liberation Serif", "fontSize": 37, "fontWeight": "bold",
                "fill": {"gradient": "linear", "x1": 0, "y1": 0, "x2": 0, "y2": 1, "stops": [{"offset": 0.2, "color": "#3a4a10"}, {"offset": 0.5, "color": "#8a1a0c"}, {"offset": 0.85, "color": "#f01010"}]}},
              "encoding": {
                "x": {"datum": {"year": 2022, "month": 10, "date": 15, "utc": true}, "type": "temporal", "title": null, "scale": {"type": "utc", "nice": false, "padding": 0, "domain": [{"year": 2021, "month": 5, "date": 6, "utc": true}, {"year": 2026, "month": 5, "date": 20, "utc": true}]}},
                "y": {"datum": 21.17, "type": "quantitative", "title": null, "scale": {"type": "log", "domain": [11.0, 51.15], "nice": false, "zero": false}},
                "text": {"field": "note"}
              }
            },
            {
              "data": {"name": "legendMain"},
              "transform": [{"filter": "false"}],
              "mark": {"type": "point", "filled": true},
              "encoding": {
                "color": {
                  "field": "s", "type": "nominal",
                  "scale": {"domain": ["$TNX (Weekly) 45.95", "$GOLD 4539.72", "Volume undef"], "range": ["#2ecc2e", "#f2a20a", "#ffffff"]},
                  "legend": {
                    "title": null, "orient": "top-left", "offset": 2, "padding": 0, "rowPadding": 0, "symbolSize": 55,
                    "labelFont": "DejaVu Sans", "labelFontSize": 10.5, "labelOffset": 4, "labelLimit": 300, "symbolStrokeWidth": 0, "symbolOpacity": 1,
                    "encode": {"labels": {"update": {"fill": {"signal": "datum.label === '$GOLD 4539.72' ? '#f2a20a' : '#c9c7a1'"}}}}
                  }
                },
                "shape": {
                  "field": "s", "type": "nominal",
                  "scale": {"domain": ["$TNX (Weekly) 45.95", "$GOLD 4539.72", "Volume undef"], "range": ["M-0.85,-0.5H-0.25V0.7H-0.85Z M0.2,-0.9H0.8V0.4H0.2Z", "M-1,-0.22H1V0.22H-1Z", "M-0.95,1V0H-0.45V1Z M-0.25,1V-0.85H0.25V1Z M0.45,1V-0.35H0.95V1Z"]},
                  "legend": {
                    "title": null, "orient": "top-left", "offset": 2, "padding": 0, "rowPadding": 0, "symbolSize": 55,
                    "labelFont": "DejaVu Sans", "labelFontSize": 10.5, "labelOffset": 4, "labelLimit": 300, "symbolStrokeWidth": 0, "symbolOpacity": 1,
                    "encode": {"labels": {"update": {"fill": {"signal": "datum.label === '$GOLD 4539.72' ? '#f2a20a' : '#c9c7a1'"}}}}
                  }
                }
              }
            }
          ]
        }
      ],
      "resolve": {"scale": {"y": "independent"}, "axis": {"y": "independent"}}
    },
    {
      "width": 904,
      "height": 245,
      "layer": [
        {
          "data": {"name": "corr"},
          "mark": {"type": "line", "strokeWidth": 1.6},
          "encoding": {
            "x": {
              "field": "d", "type": "temporal", "title": null,
              "scale": {"type": "utc", "nice": false, "padding": 0, "domain": [{"year": 2021, "month": 5, "date": 6, "utc": true}, {"year": 2026, "month": 5, "date": 20, "utc": true}]},
              "axis": {
                "tickCount": {"interval": "month", "step": 1},
                "labelExpr": "utcmonth(datum.value) === 0 ? utcFormat(datum.value, '%y') : slice(utcFormat(datum.value, '%b'), 0, 1)",
                "labelFontWeight": {"condition": {"test": "utcmonth(datum.value) === 0", "value": "bold"}, "value": "normal"},
                "labelFontSize": {"condition": {"test": "utcmonth(datum.value) === 0", "value": 11}, "value": 10},
                "grid": true,
                "gridOpacity": {"condition": {"test": "utcmonth(datum.value) % 3 === 0", "value": 1}, "value": 0},
                "tickSize": 3, "labelPadding": 0, "labelOverlap": false, "labelFlush": false, "labelBound": false,
                "domain": false
              }
            },
            "y": {
              "field": "v", "type": "quantitative", "title": null,
              "scale": {"domain": [-1.066, 1.052], "nice": false, "zero": false},
              "axis": {"orient": "right", "values": [-1, -0.75, -0.5, -0.25, 0, 0.25, 0.5, 0.75, 1], "format": ".2f", "grid": true, "tickSize": 4, "labelPadding": 1, "labelOverlap": false, "domain": false}
            },
            "color": {
              "datum": "CORR($TNX,$GOLD,50) -0.24",
              "scale": {"domain": ["CORR($TNX,$GOLD,50) -0.24"], "range": ["#ffffff"]},
              "legend": {"title": null, "orient": "top-left", "offset": 2, "padding": 0, "symbolSize": 60, "symbolStrokeWidth": 3, "labelFont": "DejaVu Sans", "labelFontSize": 10.5, "labelColor": "#c9c7a1", "labelOffset": 4, "labelLimit": 300}
            }
          }
        },
        {
          "data": {"values": [{"lvl": 0}]},
          "mark": {"type": "rule", "color": "#ffffff", "strokeWidth": 1, "strokeDash": [8, 3, 2, 3]},
          "encoding": {
            "y": {
              "field": "lvl", "type": "quantitative", "title": null,
              "scale": {"domain": [-1.066, 1.052], "nice": false, "zero": false},
              "axis": {"orient": "right", "values": [-1, -0.75, -0.5, -0.25, 0, 0.25, 0.5, 0.75, 1], "format": ".2f", "grid": true, "tickSize": 4, "labelPadding": 1, "labelOverlap": false, "domain": false}
            }
          }
        }
      ]
    }
  ],
  "resolve": {
    "scale": {"x": "independent", "y": "independent", "color": "independent", "shape": "independent", "stroke": "independent"},
    "axis": {"x": "independent", "y": "independent"},
    "legend": {"color": "independent", "shape": "independent"}
  },
  "config": {
    "view": {"stroke": "#7a7a7a", "strokeWidth": 1},
    "font": "Liberation Sans",
    "axis": {"labelColor": "#c9c7a1", "labelFont": "Liberation Sans", "labelFontSize": 10, "tickColor": "#8f8d75", "gridColor": "#3c3c3c", "gridWidth": 1, "domain": false},
    "legend": {"labelColor": "#c9c7a1"}
  }
}
